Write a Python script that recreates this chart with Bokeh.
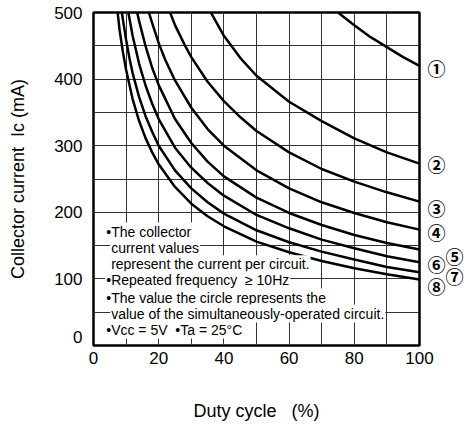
from bokeh.plotting import figure
from bokeh.models import Range1d, FixedTicker, LinearAxis
from bokeh.models import Label
from bokeh.embed import file_html
from bokeh.resources import INLINE

# ---- data (duty cycle %, collector current mA) ----
c1_x = [75, 80, 85, 90, 95, 100]
c1_y = [500, 481, 463, 448, 433, 420]
c2_x = [36, 40, 45, 50, 60, 70, 80, 90, 100]
c2_y = [500, 465, 432, 405, 366, 337, 311, 290, 273]
c3_x = [23.5, 25, 28, 30, 35, 40, 45, 50, 60, 70, 80, 90, 100]
c3_y = [500, 481, 451, 433, 396, 367, 343, 322, 290, 265, 246, 230, 216]
c4_x = [17, 18, 20, 22, 25, 30, 35, 40, 50, 60, 70, 80, 90, 100]
c4_y = [500, 484, 454, 429, 398, 357, 325, 300, 263, 236, 215, 199, 185, 174]
c5_x = [13.4, 14, 16, 18, 20, 25, 30, 35, 40, 50, 60, 70, 80, 90, 100]
c5_y = [500, 487, 449, 417, 391, 340, 304, 276, 254, 222, 199, 181, 166, 154, 144]
c6_x = [10.7, 12, 14, 16, 18, 20, 25, 30, 35, 40, 50, 60, 70, 80, 90, 100]
c6_y = [500, 465, 423, 390, 363, 340, 297, 267, 244, 225, 196, 176, 159, 146, 134, 125]
c7_x = [8.7, 9, 10, 11, 12, 14, 16, 18, 20, 25, 30, 35, 40, 50, 60, 70, 80, 90, 100]
c7_y = [500, 490, 459, 432, 409, 373, 344, 321, 300, 263, 236, 215, 198, 173, 155, 141, 129, 118, 110]
c8_x = [7.4, 8, 9, 10, 12, 14, 16, 18, 20, 25, 30, 35, 40, 50, 60, 70, 80, 90, 100]
c8_y = [500, 474, 441, 414, 370, 337, 311, 290, 272, 238, 213, 194, 179, 156, 140, 127, 116, 107, 99]

curves_x = [c1_x, c2_x, c3_x, c4_x, c5_x, c6_x, c7_x, c8_x]
curves_y = [c1_y, c2_y, c3_y, c4_y, c5_y, c6_y, c7_y, c8_y]

# curve numbers shown at the right edge (⑤ and ⑦ sit one column further out)
circle_labels = ["①", "②", "③", "④", "\u2003⑤", "⑥", "\u2003⑦", "⑧"]
circle_label_y = [416, 273, 207, 171, 135, 122, 105, 89]

x_major = [0, 20, 40, 60, 80, 100]
x_minor = [10, 30, 50, 70, 90]
y_major = [0, 100, 200, 300, 400, 500]
y_minor = [50, 150, 250, 350, 450]
y_tick_labels = ["0", "100", "200", "300", "400", "500"]
y_label_pos = [13.5, 100, 200, 300, 400, 500]   # the "0" sits a little above the axis

NB = "\u00a0"
note_lines = [
    "•The collector",
    "current values",
    "represent the current per circuit.",
    "•Repeated frequency" + NB + NB + "\u2265 10Hz",
    "•The value the circle represents the",
    "value of the simultaneously-operated circuit.",
    "•Vcc = 5V" + NB + NB + "•Ta = 25°C",
]
note_x = [3.6, 5.1, 5.1, 3.6, 3.6, 5.1, 3.6]
note_y = [171, 146, 122, 98, 72, 48, 24]

FONT = "Liberation Sans"

p = figure(width=466, height=425, output_backend="svg", toolbar_location=None,
           x_range=Range1d(0, 100), y_range=Range1d(0, 500),
           min_border_left=93, min_border_right=38, min_border_top=12,
           min_border_bottom=80, background_fill_color="white",
           border_fill_color="white")

p.outline_line_color = "black"
p.outline_line_width = 2.5

x_axis = p.xaxis[0]
left_axis = p.yaxis[0]
right_axis = LinearAxis()
p.add_layout(right_axis, "right")

for ax in (x_axis, left_axis, right_axis):
    ax.axis_line_color = None
    ax.major_tick_line_color = None
    ax.minor_tick_line_color = None
    ax.major_label_text_font = FONT
    ax.major_label_text_font_size = "17px"
    ax.major_label_text_color = "black"
    ax.axis_label_text_font = FONT
    ax.axis_label_text_font_size = "18px"
    ax.axis_label_text_font_style = "normal"
    ax.axis_label_text_color = "black"

x_axis.ticker = FixedTicker(ticks=x_major, minor_ticks=x_minor)
left_axis.ticker = FixedTicker(ticks=y_label_pos)
left_axis.major_label_overrides = {k: v for k, v in zip(y_label_pos, y_tick_labels)}
p.xgrid[0].ticker = FixedTicker(ticks=x_major, minor_ticks=x_minor)
p.ygrid[0].ticker = FixedTicker(ticks=y_major, minor_ticks=y_minor)

x_axis.major_label_standoff = 0
left_axis.major_label_standoff = 5
x_axis.axis_label = "Duty cycle" + NB + NB + NB + "(%)"
left_axis.axis_label = "Collector current" + NB + NB + "Ic (mA)"
x_axis.axis_label_standoff = 34
left_axis.axis_label_standoff = 23

right_axis.axis_label = None
right_axis.ticker = FixedTicker(ticks=circle_label_y)
right_axis.major_label_overrides = {k: v for k, v in zip(circle_label_y, circle_labels)}
right_axis.major_label_text_font = "Noto Sans CJK JP"
right_axis.major_label_text_font_size = "18px"
right_axis.major_label_text_font_style = "bold"
right_axis.major_label_standoff = 2

for g in (p.xgrid[0], p.ygrid[0]):
    g.grid_line_color = "#333333"
    g.grid_line_width = 1
    g.minor_grid_line_color = "#333333"
    g.minor_grid_line_width = 1

for xs, ys in zip(curves_x, curves_y):
    p.line(xs, ys, line_color="black", line_width=2.5)

for t, xx, yy in zip(note_lines, note_x, note_y):
    p.add_layout(Label(x=xx, y=yy, text=t, text_align="left", text_baseline="middle",
                       text_font=FONT, text_font_size="14px", text_color="black",
                       background_fill_color="white", padding=1))

open("out.html", "w").write(file_html(p, INLINE))
